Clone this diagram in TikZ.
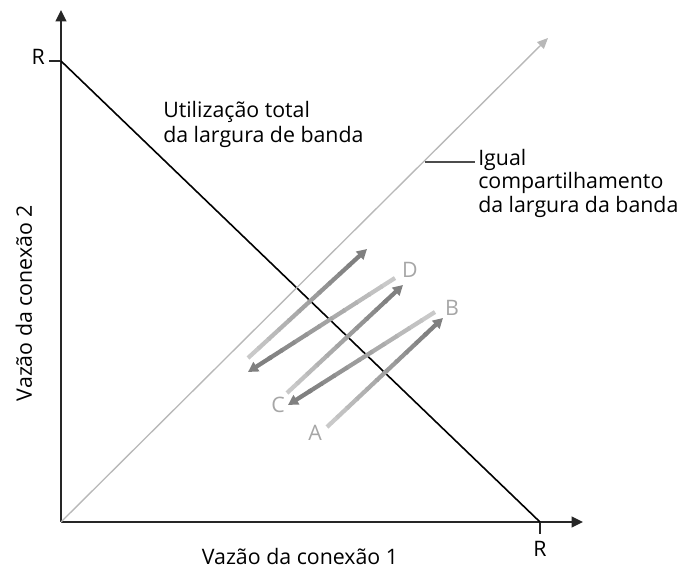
\documentclass[tikz,border=0pt]{standalone}
\usepackage{fontspec}
\setmainfont{Open Sans}
\usetikzlibrary{arrows.meta, calc}

\tikzset{
  axis/.style={draw=black!85, line width=1.2pt, -{Triangle[length=8.5pt,width=8pt]}},
  tick/.style={draw=black!85, line width=1pt},
  limit/.style={draw=black, line width=1.2pt},
  fair/.style={draw=black!28, line width=1pt, -{Triangle[length=8pt,width=7pt]}},
  lbl/.style={font=\fontsize{16}{18.75}\selectfont, inner sep=0pt},
  pt/.style={font=\fontsize{16}{18}\selectfont, text=black!35, inner sep=0pt},
}

% gradient arrow from light (start) to dark (tip)
\newcommand{\flowarrow}[2]{%
  \foreach \k in {1,...,10} {
    \pgfmathsetmacro{\ta}{(\k-1)*0.085}
    \pgfmathsetmacro{\tb}{\k*0.085+0.01}
    \pgfmathsetmacro{\sh}{18+30*\k/10}
    \draw[black!\sh, line width=3.2pt] ($(#1)!\ta!(#2)$) -- ($(#1)!\tb!(#2)$);
  }
  \draw[black!50, line width=3.2pt, -{Triangle[length=7.5pt,width=8pt]}]
    ($(#1)!0.84!(#2)$) -- (#2);
}

\begin{document}
\begin{tikzpicture}[x=0.75pt, y=0.75pt]
  \useasboundingbox (-61,-49) rectangle (621,522);

  % axes
  \coordinate (O) at (0,0);
  \coordinate (ytip) at (0,512);
  \coordinate (xtip) at (522,0);
  \coordinate (Ry) at (0,461);
  \coordinate (Rx) at (479,0);
  \draw[axis] (O) -- (ytip);
  \draw[axis] (O) -- (xtip);
  \draw[tick] (Ry) -- ++(-12,0);
  \draw[tick] (Rx) -- ++(0,-12);
  \node[lbl, anchor=base east] (Rtop) at (-16,457) {R};
  \node[lbl, anchor=base] (Rright) at (479,-35) {R};

  % full utilization line
  \draw[limit] (Ry) -- (Rx);
  \node[lbl, align=left, anchor=north west] (full) at (102,421)
    {Utilização total\\da largura de banda};

  % equal share line
  \coordinate (eqtip) at (487,484);
  \draw[fair] (O) -- (eqtip);
  \coordinate (eqpt) at (364,360);
  \coordinate (eqend) at (414,360);
  \draw[draw=black!70, line width=0.8pt] (eqpt) -- (eqend);
  \node[lbl, font=\fontsize{16}{17.6}\selectfont, align=left, anchor=north west]
    (equal) at (417,373) {Igual\\compartilhamento\\da largura da banda};

  % axis labels
  \node[lbl, anchor=base] (xlab) at (239,-43) {Vazão da conexão 1};
  \node[lbl, anchor=base, rotate=90] (ylab) at (-29,219) {Vazão da conexão 2};

  % trajectory
  \coordinate (a0) at (266,95);  \coordinate (a1) at (382,204);
  \coordinate (b0) at (374,210); \coordinate (b1) at (227,117);
  \coordinate (c0) at (226,129); \coordinate (c1) at (342,237);
  \coordinate (d0) at (334,244); \coordinate (d1) at (187,150);
  \coordinate (e0) at (187,164); \coordinate (e1) at (306,273);
  \flowarrow{a0}{a1}
  \flowarrow{b0}{b1}
  \flowarrow{c0}{c1}
  \flowarrow{d0}{d1}
  \flowarrow{e0}{e1}

  \node[pt] (A) at (254,89) {A};
  \node[pt] (B) at (391,214) {B};
  \node[pt] (C) at (217,117) {C};
  \node[pt] (D) at (349,252) {D};
\end{tikzpicture}
\end{document}
